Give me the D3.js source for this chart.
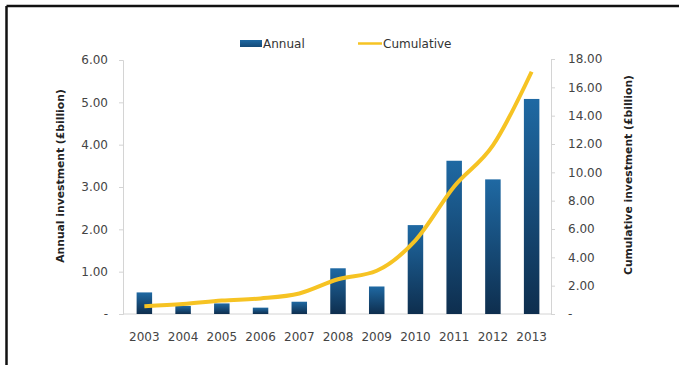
<!DOCTYPE html>
<html><head><meta charset="utf-8">
<script src="https://cdn.jsdelivr.net/npm/d3@7/dist/d3.min.js"></script>
<style>
body{margin:0;background:#fff;}
svg{display:block;font-family:"DejaVu Sans",Arial,sans-serif;}
</style></head>
<body><svg id="c" width="679" height="365"></svg>
<script>
const years = ["2003","2004","2005","2006","2007","2008","2009","2010","2011","2012","2013"];
const annual = [0.51,0.19,0.25,0.15,0.29,1.08,0.65,2.10,3.62,3.18,5.08];
const cumulative = [0.55,0.70,0.95,1.10,1.45,2.45,3.05,5.20,9.00,11.90,17.10];
const leftTicks = [0,1,2,3,4,5,6];
const rightTicks = [0,2,4,6,8,10,12,14,16,18];
const seriesNames = ["Annual","Cumulative"];

const svg = d3.select("#c");
const W = 679, H = 365;
const plotTop = 60, plotBottom = 314, plotLeft = 123, plotRight = 551;

// frame (left and top edges of the cropped box)
svg.append("line").attr("x1",6.5).attr("x2",W).attr("y1",6).attr("y2",6).attr("stroke","#111").attr("stroke-width",2.5);
svg.append("line").attr("x1",6.5).attr("x2",6.5).attr("y1",6).attr("y2",H).attr("stroke","#111").attr("stroke-width",2.5);

const defs = svg.append("defs");
const g = defs.append("linearGradient").attr("id","barGrad").attr("x1",0).attr("y1",0).attr("x2",0).attr("y2",1);
g.append("stop").attr("offset","0%").attr("stop-color","#1f69a3");
g.append("stop").attr("offset","100%").attr("stop-color","#0e2e4e");
const lg = defs.append("linearGradient").attr("id","legGrad").attr("x1",0).attr("y1",0).attr("x2",0).attr("y2",1);
lg.append("stop").attr("offset","0%").attr("stop-color","#1f69a3");
lg.append("stop").attr("offset","100%").attr("stop-color","#154a78");

const x = d3.scaleBand().domain(years).range([125,551]).paddingInner(0.6).paddingOuter(0.3);
const yL = d3.scaleLinear().domain([0,6]).range([plotBottom,plotTop]);
const yR = d3.scaleLinear().domain([0,18]).range([plotBottom,plotTop-1]);

const fmt = v => v === 0 ? "-" : d3.format(".2f")(v);

// left axis
const axL = svg.append("g").attr("transform",`translate(${plotLeft},0)`)
  .call(d3.axisLeft(yL).tickValues(leftTicks).tickFormat(fmt).tickSize(4).tickPadding(11));
// right axis
const axR = svg.append("g").attr("transform",`translate(${plotRight},0)`)
  .call(d3.axisRight(yR).tickValues(rightTicks).tickFormat(fmt).tickSize(4).tickPadding(13));
[axL,axR].forEach(a=>{
  a.select(".domain").attr("stroke","#d4d4d4");
  a.selectAll(".tick line").attr("stroke","#d4d4d4");
  a.selectAll(".tick text").attr("fill","#444").attr("font-size","12px").attr("font-family","DejaVu Sans");
});

// x axis baseline and labels
const axB = svg.append("g").attr("transform",`translate(0,${plotBottom})`)
  .call(d3.axisBottom(x).tickSize(0).tickPadding(18));
axB.select(".domain").attr("stroke","#d4d4d4").attr("d",`M${plotLeft},0H${plotRight}`);
axB.selectAll(".tick text").attr("fill","#444").attr("font-size","12px").attr("font-family","DejaVu Sans");

// bars
svg.append("g").selectAll("rect").data(annual).join("rect")
  .attr("x",(d,i)=>x(years[i]))
  .attr("width",x.bandwidth())
  .attr("y",d=>yL(d))
  .attr("height",d=>plotBottom-yL(d))
  .attr("fill","url(#barGrad)");

// cumulative line
const line = d3.line().x((d,i)=>x(years[i])+x.bandwidth()/2).y(d=>yR(d)).curve(d3.curveMonotoneX);
svg.append("path").datum(cumulative).attr("d",line)
  .attr("fill","none").attr("stroke","#f6c323").attr("stroke-width",4).attr("stroke-linejoin","round").attr("stroke-linecap","butt");

// axis titles
svg.append("text").attr("transform",`translate(64,176) rotate(-90)`)
  .attr("text-anchor","middle").attr("font-weight","bold").attr("font-size","10.8px").attr("fill","#222")
  .text("Annual investment (£billion)");
svg.append("text").attr("transform",`translate(632,175) rotate(-90)`)
  .attr("text-anchor","middle").attr("font-weight","bold").attr("font-size","10.8px").attr("fill","#222")
  .text("Cumulative investment (£billion)");

// legend
const leg = svg.append("g");
leg.append("rect").attr("x",240).attr("y",40).attr("width",22).attr("height",7).attr("fill","url(#legGrad)");
leg.append("text").attr("x",263).attr("y",48).attr("font-size","12px").attr("fill","#333").text(seriesNames[0]);
leg.append("line").attr("x1",358).attr("x2",382).attr("y1",43.5).attr("y2",43.5).attr("stroke","#f6c323").attr("stroke-width",2.5);
leg.append("text").attr("x",383).attr("y",48).attr("font-size","12px").attr("fill","#333").text(seriesNames[1]);
</script>
</body></html>
